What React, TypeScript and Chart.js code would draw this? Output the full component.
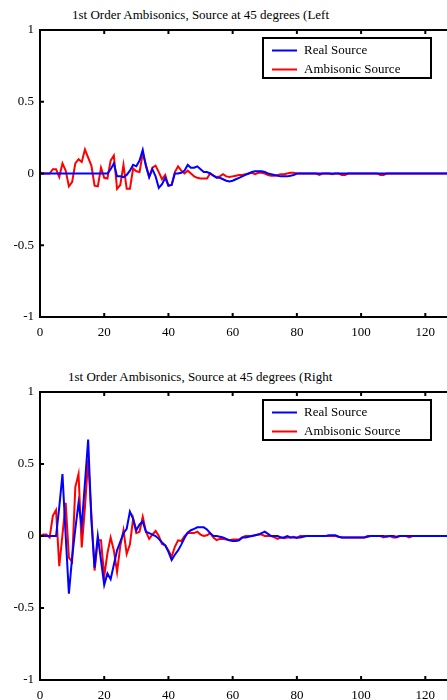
import React, { useEffect, useRef } from "react";
import { Chart, registerables } from "chart.js";

Chart.register(...registerables);

// ---- data (sample index 0..127) ----
const titleLeft = "1st Order Ambisonics, Source at 45 degrees (Left";
const titleRight = "1st Order Ambisonics, Source at 45 degrees (Right";
const seriesLabels = ["Real Source", "Ambisonic Source"];
const seriesColors = ["#0000ff", "#ff0000"];
const yTickValues = [-1, -0.5, 0, 0.5, 1];
const yTickLabels = ["-1", "-0.5", "0", "0.5", "1"];
const xTickStep = 20;
const xMin = 0;
const xMax = 128;

const realLeft = [
  0, 0, 0, 0, 0, 0, 0, 0, 0, 0,
  0, 0, 0, 0, 0, 0, 0, 0, 0, 0,
  0, 0, 0.03, 0.07, -0.02, -0.02, -0.025, -0.01, 0.02, 0.06,
  0.05, 0.09, 0.165, 0.05, -0.025, 0.03, -0.02, -0.1, -0.075, -0.03,
  -0.085, -0.08, 0, 0, 0.005, 0.02, 0.06, 0.04, 0.04, 0.05,
  0.03, 0.01, 0.01, 0, -0.015, -0.03, -0.03, -0.04, -0.05, -0.055,
  -0.05, -0.04, -0.03, -0.02, -0.01, 0, 0.01, 0.015, 0.015, 0.015,
  0.01, 0, -0.005, -0.01, -0.015, -0.02, -0.02, -0.02, -0.015, -0.01,
  0, 0, 0, 0, 0, 0, 0, 0, 0, 0,
  0, 0, 0, 0, 0, 0, 0, 0, 0, 0,
  0, 0, 0, 0, 0, 0, 0, 0, 0, 0,
  0, 0, 0, 0, 0, 0, 0, 0, 0, 0,
  0, 0, 0, 0, 0, 0, 0, 0,
];

const ambiLeft = [
  0, 0, 0, 0, 0.03, 0.03, -0.025, 0.07, 0.02, -0.09,
  -0.06, 0.07, 0.1, 0.08, 0.167, 0.11, 0.055, -0.085, -0.09, 0.04,
  -0.03, -0.035, 0.09, 0.125, -0.107, -0.08, 0.06, -0.107, -0.107, 0.035,
  0.015, 0.01, 0.14, 0.06, -0.025, 0.04, 0.055, 0.01, -0.04, -0.01,
  -0.085, -0.08, 0.01, 0.05, 0.02, 0, 0.02, 0, -0.02, -0.03,
  -0.035, -0.035, -0.035, 0, -0.015, -0.025, -0.02, -0.005, -0.02, -0.025,
  -0.02, -0.015, -0.01, -0.01, -0.005, 0, 0.005, -0.005, 0.005, 0.005,
  0, -0.01, -0.015, -0.015, -0.01, -0.005, -0.005, 0, 0.005, 0.005,
  0, 0, 0, 0, 0, 0, 0, -0.01, 0, 0,
  0, -0.005, 0, 0, -0.01, -0.01, 0, 0, 0, 0,
  0, 0, 0, 0, 0, 0, -0.01, -0.01, 0, 0,
  0, 0, 0, 0, 0, 0, 0, 0, 0, 0,
  0, 0, 0, 0, 0, 0, 0, 0,
];

const realRight = [
  0, 0, 0, 0, 0, 0, 0.2, 0.43, 0.0, -0.4,
  -0.15, 0.05, 0.23, 0.07, 0.37, 0.67, 0.11, -0.22, 0.0, -0.17,
  -0.34, -0.26, -0.3, -0.2, -0.1, -0.04, 0.02, 0.05, 0.17, 0.12,
  0.04, 0.08, 0.1, 0.03, 0.02, 0.01, 0, -0.02, -0.045, -0.065,
  -0.11, -0.167, -0.13, -0.1, -0.06, -0.014, 0.023, 0.04, 0.05, 0.06,
  0.06, 0.06, 0.045, 0.02, 0.0, 0, -0.005, -0.01, -0.02, -0.03,
  -0.035, -0.035, -0.03, -0.01, -0.01, -0.005, 0, 0.005, 0.01, 0.02,
  0.03, 0.015, 0, 0, 0, -0.01, -0.01, 0, -0.01, -0.01,
  -0.01, -0.01, -0.005, 0, 0, 0, 0, 0, 0, 0,
  0.005, 0.005, 0.005, -0.005, -0.01, -0.01, -0.01, -0.01, -0.01, -0.01,
  -0.01, -0.01, -0.005, 0, 0, 0, 0, 0, -0.005, 0,
  0, -0.005, 0, 0, 0, 0, 0, 0, 0, 0,
  0, 0, 0, 0, 0, 0, 0, 0,
];

const ambiRight = [
  0, 0.01, 0.01, -0.01, 0.14, 0.18, -0.21, 0.01, 0.23, -0.15,
  -0.18, 0.34, 0.43, -0.08, 0.2, 0.53, 0.15, -0.24, -0.03, -0.03,
  -0.28, -0.12, -0.01, -0.1, -0.25, -0.07, 0.04, -0.125, -0.06, 0.12,
  0.02, 0.03, 0.134, 0.03, -0.02, 0.01, 0.035, 0, -0.055, -0.065,
  -0.1, -0.144, -0.075, -0.03, -0.035, 0, 0.023, 0.02, 0.02, 0.03,
  0.01, 0.0, 0.005, 0.02, -0.01, -0.028, -0.02, -0.02, -0.025, -0.03,
  -0.025, -0.025, -0.025, -0.01, 0, 0, 0, 0.005, 0.01, 0.01,
  0, 0, 0, -0.01, -0.02, -0.01, -0.015, -0.01, -0.01, -0.005,
  -0.015, 0, 0, 0, 0, 0, 0, 0, 0, 0,
  0, 0, 0, -0.005, -0.01, -0.01, -0.01, -0.01, -0.01, -0.01,
  -0.01, -0.01, 0, 0, 0, 0, 0, -0.01, 0, 0,
  -0.01, -0.01, 0, 0, 0, -0.01, 0, 0, 0, 0,
  0, 0, 0, 0, 0, 0, 0, 0,
];

const FONT = '"Liberation Serif", "Times New Roman", serif';

// frame with inward ticks on all four sides
const frameTicksPlugin = {
  id: "frameTicks",
  afterDatasetsDraw(chart: any, _args: any, opts: any) {
    const { ctx, chartArea: a, scales } = chart;
    const L = opts.tickLength;
    ctx.save();
    ctx.strokeStyle = "#000";
    ctx.lineWidth = opts.tickWidth;
    ctx.beginPath();
    scales.x.ticks.forEach((t: any) => {
      const px = scales.x.getPixelForValue(t.value);
      ctx.moveTo(px, a.bottom);
      ctx.lineTo(px, a.bottom - L);
      ctx.moveTo(px, a.top);
      ctx.lineTo(px, a.top + L);
    });
    scales.y.ticks.forEach((t: any) => {
      const py = scales.y.getPixelForValue(t.value);
      ctx.moveTo(a.left, py);
      ctx.lineTo(a.left + L, py);
      ctx.moveTo(a.right, py);
      ctx.lineTo(a.right - L, py);
    });
    ctx.stroke();
    ctx.lineWidth = opts.frameWidth;
    ctx.strokeRect(a.left, a.top, a.right - a.left, a.bottom - a.top);
    ctx.restore();
  },
};

// boxed legend inside the plot area
const boxLegendPlugin = {
  id: "boxLegend",
  afterDraw(chart: any, _args: any, opts: any) {
    const { ctx, chartArea: a } = chart;
    const x0 = a.left + opts.offsetX;
    const y0 = a.top + opts.offsetY;
    ctx.save();
    ctx.fillStyle = "#fff";
    ctx.fillRect(x0, y0, opts.width, opts.height);
    ctx.strokeStyle = "#000";
    ctx.lineWidth = 2;
    ctx.strokeRect(x0, y0, opts.width, opts.height);
    ctx.font = opts.font;
    ctx.textBaseline = "middle";
    ctx.textAlign = "left";
    chart.data.datasets.forEach((ds: any, i: number) => {
      const y = y0 + opts.rows[i];
      ctx.strokeStyle = ds.borderColor;
      ctx.lineWidth = 2;
      ctx.beginPath();
      ctx.moveTo(x0 + opts.lineStart, y);
      ctx.lineTo(x0 + opts.lineEnd, y);
      ctx.stroke();
      ctx.fillStyle = "#000";
      ctx.fillText(ds.label, x0 + opts.textStart, y);
    });
    ctx.restore();
  },
};

type PanelProps = {
  title: string;
  real: number[];
  ambi: number[];
  top: number;
  height: number;
  padTop: number;
  xAxisHeight: number;
  titleLeft: number;
  titleTop: number;
};

function Panel(p: PanelProps) {
  const ref = useRef<HTMLCanvasElement | null>(null);
  useEffect(() => {
    if (!ref.current) return;
    const labels = p.real.map((_, i) => i);
    const chart = new Chart(ref.current, {
      type: "line",
      data: {
        labels,
        datasets: [
          {
            label: seriesLabels[0],
            data: p.real,
            borderColor: seriesColors[0],
            backgroundColor: seriesColors[0],
            borderWidth: 2,
            pointRadius: 0,
            tension: 0,
            fill: false,
          },
          {
            label: seriesLabels[1],
            data: p.ambi,
            borderColor: seriesColors[1],
            backgroundColor: seriesColors[1],
            borderWidth: 2,
            pointRadius: 0,
            tension: 0,
            fill: false,
          },
        ],
      },
      options: {
        responsive: false,
        animation: false,
        events: [],
        layout: { padding: { top: p.padTop, right: 5, left: 0, bottom: 0 } },
        scales: {
          x: {
            type: "linear",
            min: xMin,
            max: xMax,
            grid: { display: false, drawTicks: false },
            border: { display: false },
            afterFit: (s: any) => {
              s.height = p.xAxisHeight;
            },
            ticks: {
              stepSize: xTickStep,
              includeBounds: false,
              maxRotation: 0,
              padding: 8,
              color: "#000",
              font: { family: FONT, size: 13 },
            },
          },
          y: {
            type: "linear",
            min: -1,
            max: 1,
            grid: { display: false, drawTicks: false },
            border: { display: false },
            afterFit: (s: any) => {
              s.width = 40;
            },
            afterBuildTicks: (s: any) => {
              s.ticks = yTickValues.map((v) => ({ value: v }));
            },
            ticks: {
              padding: 6,
              color: "#000",
              font: { family: FONT, size: 13 },
              callback: (v: any) => {
                const i = yTickValues.indexOf(Number(v));
                return i >= 0 ? yTickLabels[i] : "";
              },
            },
          },
        },
        plugins: {
          legend: { display: false },
          title: { display: false },
          tooltip: { enabled: false },
          frameTicks: { tickLength: 4, tickWidth: 2, frameWidth: 2 },
          boxLegend: {
            offsetX: 223,
            offsetY: 8,
            width: 168,
            height: 40,
            rows: [12.5, 31.5],
            lineStart: 9,
            lineEnd: 34,
            textStart: 41,
            font: `13px ${FONT}`,
          },
        } as any,
      },
      plugins: [frameTicksPlugin, boxLegendPlugin],
    } as any);
    return () => chart.destroy();
  }, []);
  return (
    <>
      <div
        style={{
          position: "absolute",
          left: p.titleLeft,
          top: p.titleTop,
          fontFamily: FONT,
          fontSize: 13,
          lineHeight: "14px",
          whiteSpace: "nowrap",
          color: "#000",
        }}
      >
        {p.title}
      </div>
      <canvas
        ref={ref}
        width={456}
        height={p.height}
        style={{ position: "absolute", left: 0, top: p.top, display: "block" }}
      />
    </>
  );
}

export default function App() {
  return (
    <div
      style={{
        position: "absolute",
        left: 0,
        top: 0,
        width: 447,
        height: 700,
        overflow: "hidden",
        background: "#fff",
      }}
    >
      <Panel
        title={titleLeft}
        real={realLeft}
        ambi={ambiLeft}
        top={0}
        height={345}
        padTop={30}
        xAxisHeight={28}
        titleLeft={72}
        titleTop={8}
      />
      <Panel
        title={titleRight}
        real={realRight}
        ambi={ambiRight}
        top={360}
        height={340}
        padTop={32}
        xAxisHeight={20}
        titleLeft={68}
        titleTop={370}
      />
    </div>
  );
}
